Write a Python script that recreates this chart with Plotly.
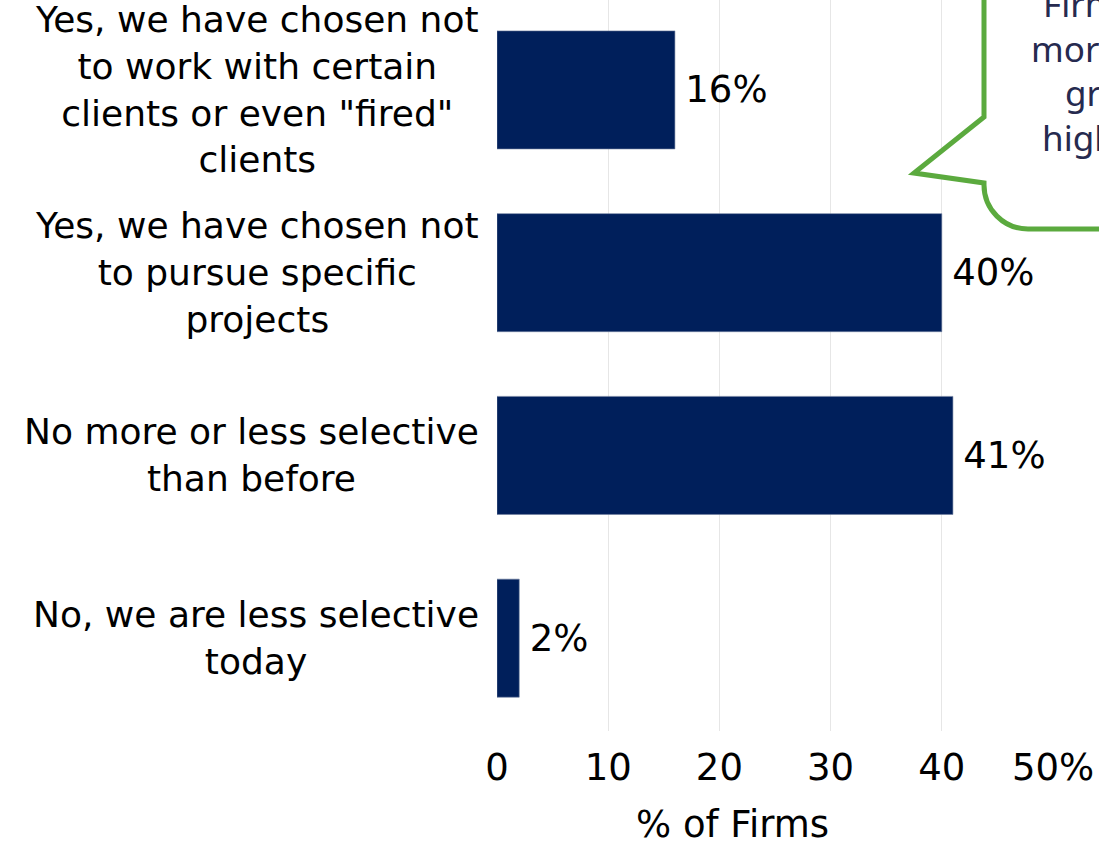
import plotly.graph_objects as go

# Survey responses: have firms become more selective about clients/projects?
categories = [
    'Yes, we have chosen not<br>to work with certain<br>clients or even "fired"<br>clients',
    "Yes, we have chosen not<br>to pursue specific<br>projects",
    "No more or less selective<br>than before",
    "No, we are less selective<br>today",
]
share_pct = [16, 40, 41, 2]

tick_values = [0, 10, 20, 30, 40, 50]
tick_labels = ["0", "10", "20", "30", "40", "50%"]

callout_lines = ["Firms that are", "more selective", "grew faster,", "higher margins"]

W, H = 1099, 841
ML, MR, MT, MB = 497, 46, 0, 110
PW, PH = W - ML - MR, H - MT - MB

BAR_COLOR = "#001F5B"
GREEN = "#5BAA3E"
LABEL_FONT = "DejaVu Sans, Verdana, sans-serif"
FS = 37
FS_CAT = 36


def px_x(px):
    """Horizontal pixel position -> paper coordinate."""
    return (px - ML) / PW


def px_y(py):
    """Vertical pixel position (from top) -> paper coordinate."""
    return (H - MB - py) / PH


ids = list(range(len(categories)))

fig = go.Figure(
    go.Bar(
        x=share_pct,
        y=ids,
        orientation="h",
        marker=dict(color=BAR_COLOR, line=dict(color="#6f7fa0", width=0.6)),
        text=[f"\u2009{v}%" for v in share_pct],
        textposition="outside",
        textfont=dict(family=LABEL_FONT, size=FS, color="#000000"),
        cliponaxis=False,
        hoverinfo="skip",
    )
)

# Category labels, centred line by line to the left of the bars
for i, label in zip(ids, categories):
    fig.add_annotation(
        x=0, xref="paper", y=i, yref="y",
        text=label, showarrow=False,
        xanchor="right", yanchor="middle", align="center",
        xshift=-16,
        font=dict(family=LABEL_FONT, size=FS_CAT, color="#000000"),
    )

# Axis title
fig.add_annotation(
    x=px_x(732), xref="paper", y=px_y(824), yref="paper",
    text="% of Firms", showarrow=False,
    xanchor="center", yanchor="middle",
    font=dict(family=LABEL_FONT, size=FS, color="#000000"),
)

# Speech-bubble callout with a tail pointing at the bars
r = 44
k = 0.5523 * r
pts = [
    ("M", 984, -30),
    ("L", 984, 117),
    ("L", 914, 173),
    ("L", 984, 183),
    ("L", 984, 229 - r),
]
path = " ".join(f"{c} {px_x(x):.5f},{px_y(y):.5f}" for c, x, y in pts)
path += (
    f" C {px_x(984):.5f},{px_y(229 - r + k):.5f}"
    f" {px_x(984 + r - k):.5f},{px_y(229):.5f}"
    f" {px_x(984 + r):.5f},{px_y(229):.5f}"
)
path += f" L {px_x(1140):.5f},{px_y(229):.5f} L {px_x(1140):.5f},{px_y(-30):.5f} Z"
fig.add_shape(
    type="path", xref="paper", yref="paper", path=path,
    fillcolor="white", line=dict(color=GREEN, width=5), layer="above",
)

callout_starts = [1041, 1029, 1063, 1040]
callout_mid = [3, 48, 93, 138]
for line, x0, ym in zip(callout_lines, callout_starts, callout_mid):
    fig.add_annotation(
        x=px_x(x0), xref="paper", y=px_y(ym), yref="paper",
        text=line, showarrow=False, xanchor="left", yanchor="middle",
        font=dict(family="Noto Sans, Open Sans, sans-serif", size=35, color="#262A4F"),
    )

fig.update_layout(
    width=W, height=H,
    margin=dict(l=ML, r=MR, t=MT, b=MB, pad=0),
    paper_bgcolor="white", plot_bgcolor="white",
    bargap=0.354,
    showlegend=False,
    xaxis=dict(
        range=[0, 50],
        tickvals=tick_values, ticktext=tick_labels,
        showgrid=True, gridcolor="#E6E6E6", gridwidth=1,
        zeroline=False, showline=False,
        ticks="outside", ticklen=4, tickcolor="rgba(0,0,0,0)",
        tickfont=dict(family=LABEL_FONT, size=FS, color="#000000"),
    ),
    yaxis=dict(
        range=[3.508, -0.492],
        showticklabels=False, showgrid=False, zeroline=False, showline=False,
    ),
)

fig.write_html("out.html")
